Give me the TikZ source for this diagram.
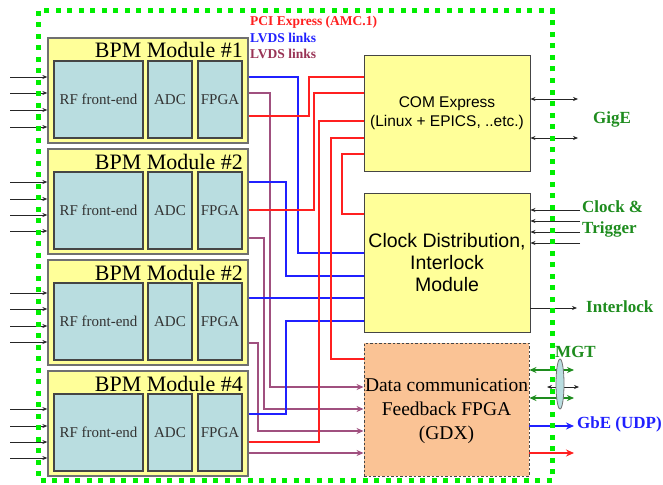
\documentclass[tikz,border=0pt]{standalone}
\usepackage{fontspec}
\setmainfont{Liberation Serif}
\newfontfamily\arialf{Liberation Sans}
\usetikzlibrary{arrows.meta}
\definecolor{ylw}{HTML}{FFFF99}
\definecolor{tealb}{HTML}{B9DDE0}
\definecolor{peach}{HTML}{FAC395}
\definecolor{lred}{HTML}{FF2020}
\definecolor{lblue}{HTML}{2020FF}
\definecolor{lmag}{HTML}{A0507F}
\definecolor{tmag}{HTML}{993355}
\definecolor{dgreen}{HTML}{1E8C1E}
\definecolor{bgreen}{HTML}{00EE00}
\definecolor{bordg}{HTML}{707070}
\definecolor{bordd}{HTML}{454545}
\tikzset{
  modbox/.style={draw=bordg, fill=ylw, line width=1.3pt, inner sep=0pt},
  inbox/.style={draw=bordd, fill=tealb, line width=1.2pt, inner sep=0pt, font=\fontsize{15}{15}\selectfont, text=black!80},
  bigbox/.style={draw=bordd, fill=ylw, line width=0.9pt, inner sep=0pt, align=center},
  gdxbox/.style={draw=bordd, fill=peach, line width=0.9pt, dash pattern=on 2.5pt off 2pt, inner sep=0pt, align=center},
  redl/.style={draw=lred, line width=2.2pt},
  bluel/.style={draw=lblue, line width=2.2pt},
  magl/.style={draw=lmag, line width=2pt, -{Stealth[length=7pt,width=6pt]}},
  thinarr/.style={draw=black!85, line width=0.7pt, -{Stealth[length=5pt,width=4pt]}},
  thinboth/.style={draw=black!85, line width=0.7pt, {Stealth[length=5pt,width=4pt]}-{Stealth[length=5pt,width=4pt]}},
  greenboth/.style={draw=dgreen, line width=1.8pt, {Stealth[length=7pt,width=6pt]}-{Stealth[length=7pt,width=6pt]}},
  lbl/.style={anchor=west, inner sep=0pt, font=\bfseries\fontsize{17}{21}\selectfont, text=dgreen, align=left},
  leg/.style={anchor=west, inner sep=0pt, font=\bfseries\fontsize{13.5}{14}\selectfont},
}
\begin{document}
\begin{tikzpicture}[x=1pt,y=-1pt]
\useasboundingbox (0,0) rectangle (663,484);

% BPM modules
\foreach \i/\t/\n in {1/38/1,2/149/2,3/260/2,4/371/4}{
  \node[modbox, minimum width=200pt, minimum height=105pt] (m\i) at (148,\t+52.5) {};
  \node[inbox, minimum width=89pt, minimum height=77pt] (rf\i) at (98.5,\t+61.5) {RF front-end};
  \node[inbox, minimum width=44pt, minimum height=77pt] (adc\i) at (170,\t+61.5) {ADC};
  \node[inbox, minimum width=44pt, minimum height=77pt] (fp\i) at (220,\t+61.5) {FPGA};
  \node[anchor=base east, inner sep=0pt, font=\fontsize{22}{22}\selectfont] (t\i) at (243,\t+20) {BPM Module \#\n};
}

% input arrows
\foreach \y in {77,93,110,127}{ \draw[thinarr] (10,\y) -- (m1.west |- 0,\y); }
\foreach \y in {182,199,215,231}{ \draw[thinarr] (10,\y) -- (m2.west |- 0,\y); }
\foreach \y in {293,309,326,342}{ \draw[thinarr] (10,\y) -- (m3.west |- 0,\y); }
\foreach \y in {409,426,442,458}{ \draw[thinarr] (10,\y) -- (m4.west |- 0,\y); }

% big boxes
\node[bigbox, minimum width=166pt, minimum height=116pt, font=\arialf\fontsize{15.5}{19}\selectfont] (com) at (447,113)
  {COM Express\\(Linux + EPICS, ..etc.)};
\node[bigbox, minimum width=166pt, minimum height=139pt, font=\arialf\fontsize{19.5}{22}\selectfont] (clk) at (447,262.5)
  {Clock Distribution,\\Interlock\\Module};
\node[gdxbox, minimum width=165pt, minimum height=133pt] (gdx) at (446.5,409.5) {};
\node[align=center, inner sep=0pt, font=\fontsize{19.5}{24}\selectfont] (gdxt) at (446.5,411) {Data communication\\Feedback FPGA\\(GDX)};

% legend
\node[leg, text=lred] (lg1) at (250,22) {PCI Express (AMC.1)};
\node[leg, text=lblue] (lg2) at (250,38) {LVDS links};
\node[leg, text=tmag] (lg3) at (250,53.5) {LVDS links};

% magenta LVDS to GDX
\draw[magl] (m1.east |- 0,93) -| (270,387) -- (gdx.west |- 0,387);
\draw[magl] (m2.east |- 0,238) -| (264,409) -- (gdx.west |- 0,409);
\draw[magl] (m3.east |- 0,343) -| (258,431) -- (gdx.west |- 0,431);
\draw[magl] (m4.east |- 0,453) -- (gdx.west |- 0,453);

% blue LVDS to clock
\draw[bluel] (m1.east |- 0,77) -| (298,253) -- (clk.west |- 0,253);
\draw[bluel] (m2.east |- 0,182) -| (286,276) -- (clk.west |- 0,276);
\draw[bluel] (m3.east |- 0,298) -- (clk.west |- 0,298);
\draw[bluel] (m4.east |- 0,414) -| (286,321) -- (clk.west |- 0,321);

% red PCIe
\draw[redl] (m1.east |- 0,116) -| (309,77) -- (com.west |- 0,77);
\draw[redl] (m2.east |- 0,210) -| (314,93) -- (com.west |- 0,93);
\draw[redl] (m4.east |- 0,442) -| (319,121) -- (com.west |- 0,121);
\draw[redl] (com.west |- 0,138) -| (331,359) -- (gdx.west |- 0,359);
\draw[redl] (com.west |- 0,154) -| (342,214) -- (clk.west |- 0,214);

% right side connectors
\coordinate (ge1) at (578,99);
\coordinate (ge2) at (578,138);
\draw[thinboth] (com.east |- ge1) -- (ge1);
\draw[thinboth] (com.east |- ge2) -- (ge2);
\foreach \y in {210,221,232,243}{ \draw[thinarr] (580,\y) -- (clk.east |- 0,\y); }
\coordinate (il) at (577,308);
\draw[thinarr] (clk.east |- il) -- (il);
\coordinate (mg1) at (574,370);
\coordinate (mg2) at (574,398);
\coordinate (mgb1) at (547,387);
\coordinate (mgb2) at (579,387);
\draw[greenboth] (gdx.east |- mg1) -- (mg1);
\draw[greenboth] (gdx.east |- mg2) -- (mg2);
\draw[thinboth] (mgb1) -- (mgb2);
\coordinate (gbe) at (574,426);
\coordinate (rde) at (574,453);
\draw[draw=lblue, line width=2.4pt, -{Stealth[length=8pt,width=7pt]}] (gdx.east |- gbe) -- (gbe);
\draw[draw=lred, line width=2.4pt, -{Stealth[length=8pt,width=7pt]}] (gdx.east |- rde) -- (rde);

% green dotted frame
\draw[bgreen, line width=5pt, dash pattern=on 5pt off 6.5pt] (38,11) rectangle (552,480);

% MGT ellipse
\draw[fill=tealb, draw=bordg, line width=0.8pt] (560,384) ellipse [x radius=4pt, y radius=25pt];

% right labels
\node[lbl] (lgige) at (593,119) {GigE};
\node[lbl] (lclk) at (582,218.5) {Clock \&\\Trigger};
\node[lbl] (lint) at (586,307) {Interlock};
\node[lbl] (lmgt) at (555,352) {MGT};
\node[lbl, text=lblue] (lgbe) at (577,424) {GbE (UDP)};
\end{tikzpicture}
\end{document}
